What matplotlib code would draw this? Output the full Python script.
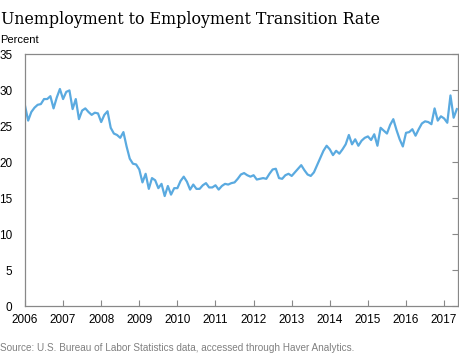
import numpy as np
import pandas as pd
from matplotlib import pyplot as plt

# monthly values, Jan 2006 onward
rate = [
    27.9, 25.8, 27.0, 27.6, 28.0, 28.1, 28.8, 28.8, 29.2, 27.5, 29.0, 30.2,  # 2006
    28.8, 29.8, 30.0, 27.4, 28.8, 26.0, 27.2, 27.5, 27.0, 26.6, 26.9, 26.8,  # 2007
    25.6, 26.6, 27.1, 24.8, 24.0, 23.8, 23.4, 24.2, 22.2, 20.5, 19.8, 19.7,  # 2008
    19.0, 17.2, 18.4, 16.3, 17.8, 17.5, 16.4, 17.0, 15.3, 16.7, 15.5, 16.4,  # 2009
    16.4, 17.4, 18.0, 17.3, 16.2, 16.9, 16.3, 16.3, 16.8, 17.1, 16.5, 16.5,  # 2010
    16.8, 16.2, 16.7, 17.0, 16.9, 17.1, 17.2, 17.7, 18.3, 18.5, 18.2, 18.0,  # 2011
    18.2, 17.6, 17.7, 17.8, 17.7, 18.4, 19.0, 19.1, 17.8, 17.7, 18.2, 18.4,  # 2012
    18.1, 18.6, 19.1, 19.6, 18.9, 18.3, 18.1, 18.6, 19.6, 20.6, 21.6, 22.3,  # 2013
    21.8, 21.0, 21.6, 21.2, 21.8, 22.5, 23.8, 22.5, 23.2, 22.3, 23.0, 23.4,  # 2014
    23.6, 23.1, 23.9, 22.3, 24.8, 24.4, 24.0, 25.2, 26.0, 24.5, 23.2, 22.2,  # 2015
    24.1, 24.2, 24.6, 23.7, 24.6, 25.4, 25.7, 25.6, 25.3, 27.5, 25.8, 26.4,  # 2016
    26.1, 25.5, 29.3, 26.2, 27.4,                                            # 2017
]
dates = pd.date_range('2006-01-01', periods=len(rate), freq='MS')
t = dates.year + (dates.month - 1) / 12.0

years = list(range(2006, 2018))
yticks = [0, 5, 10, 15, 20, 25, 30, 35]

fig = plt.figure(figsize=(4.6, 3.55), dpi=100)
ax = fig.add_axes([0.0543, 0.138, 0.9414, 0.7085])

ax.plot(t, rate, color='#5aaae0', linewidth=1.6)

ax.set_xlim(2006, 2017.365)
ax.set_ylim(0, 35)
ax.set_xticks(years)
ax.set_xticklabels([str(y) for y in years], fontsize=8.5, family='Liberation Sans')
ax.set_yticks(yticks)
ax.set_yticklabels([str(v) for v in yticks], fontsize=8.5, family='Liberation Sans')

ax.tick_params(axis='x', direction='in', length=4, width=0.8, color='#888888', pad=6)
ax.tick_params(axis='y', which='both', left=False, right=True, direction='in',
               length=4, width=0.8, color='#888888', pad=9)
for s in ax.spines.values():
    s.set_color('#888888')
    s.set_linewidth(0.9)

fig.text(0.002, 0.932, 'Unemployment to Employment Transition Rate',
         fontsize=11.4, family='DejaVu Serif', va='baseline')
fig.text(0.0, 0.878, 'Percent', fontsize=8, family='Liberation Sans', va='baseline')
fig.text(0.0, 0.01, 'Source: U.S. Bureau of Labor Statistics data, accessed through Haver Analytics.',
         fontsize=7.2, family='Liberation Sans', color='#808080', va='baseline')

fig.savefig('out.png', dpi=100)
